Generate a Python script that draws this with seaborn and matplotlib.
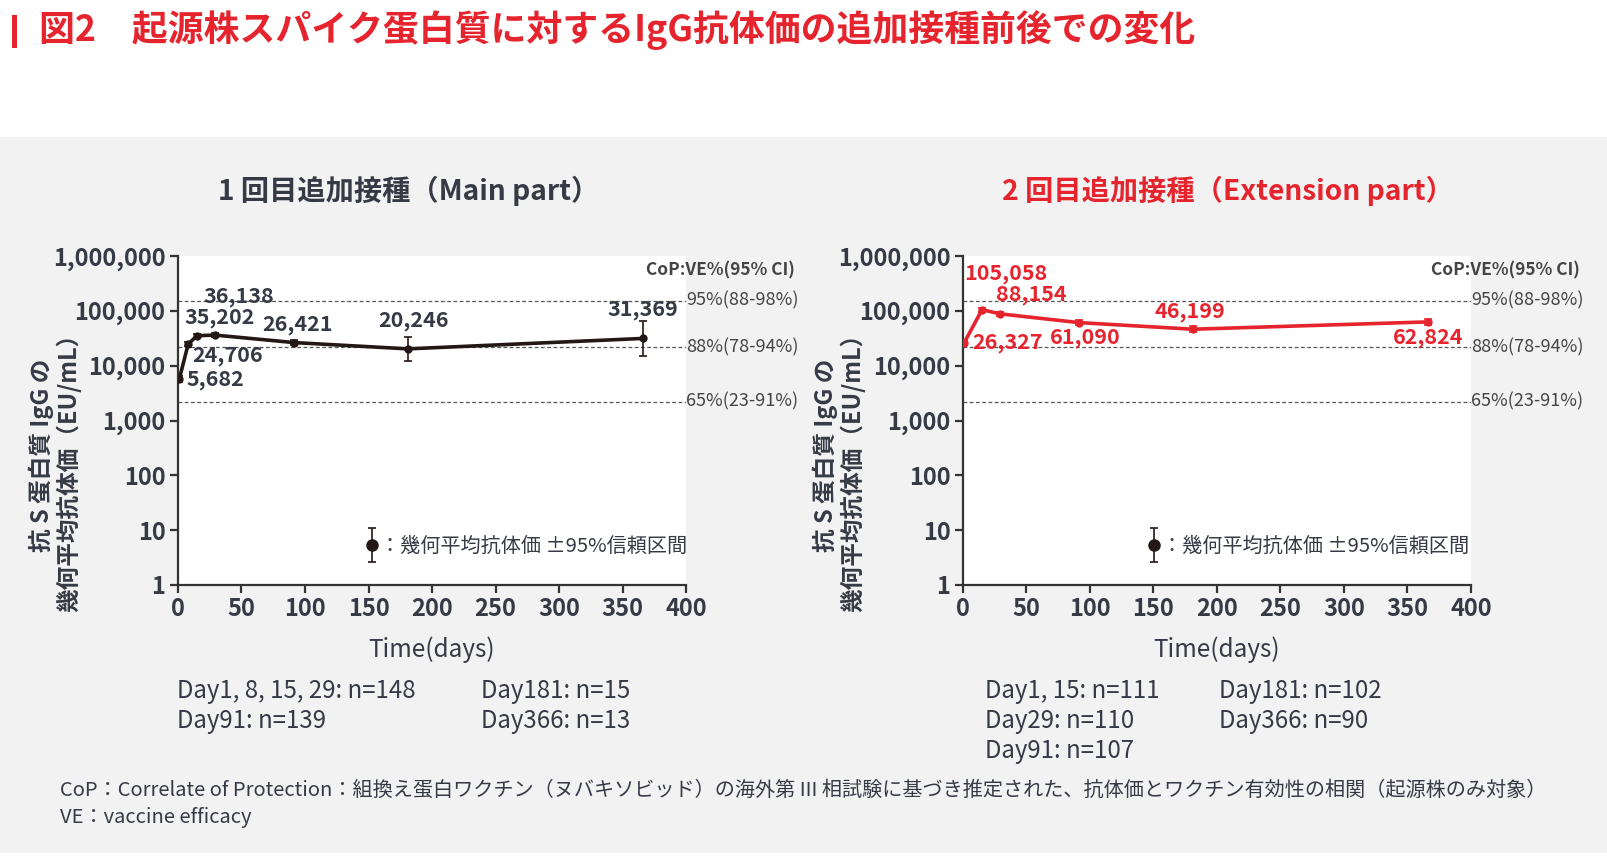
import matplotlib
matplotlib.use("Agg")
import matplotlib.pyplot as plt
import matplotlib.transforms as mtransforms
from matplotlib.patches import Rectangle
from matplotlib.ticker import FixedLocator, FuncFormatter
from matplotlib.legend_handler import HandlerErrorbar
from matplotlib.container import ErrorbarContainer
import numpy as np
import pandas as pd
import seaborn as sns

# --- data -------------------------------------------------------------
main_days = [1, 8, 15, 29, 91, 181, 366]
main_gmt = [5682, 24706, 35202, 36138, 26421, 20246, 31369]
main_lo = [5000, 22500, 32500, 33000, 24000, 12000, 15000]
main_hi = [6450, 27100, 38100, 39500, 29100, 33900, 65800]

ext_days = [1, 15, 29, 91, 181, 366]
ext_gmt = [26327, 105058, 88154, 61090, 46199, 62824]
ext_lo = [24000, 96000, 81000, 54500, 40500, 55500]
ext_hi = [28900, 115000, 96000, 68500, 52700, 71000]

cop_values = [154000, 22000, 2200]
cop_labels = ["95%(88-98%)", "88%(78-94%)", "65%(23-91%)"]

main_n = ["Day1, 8, 15, 29: n=148", "Day91: n=139", "Day181: n=15", "Day366: n=13"]
ext_n = ["Day1, 15: n=111", "Day29: n=110", "Day91: n=107", "Day181: n=102", "Day366: n=90"]

# label offsets (points) for value annotations
main_off = [(5, 0, "left"), (3, -8.5, "left"), (16, 13, "center"), (17, 28, "center"),
            (3, 13, "center"), (4, 20.5, "center"), (0, 21, "center")]
ext_off = [(6, 0, "left"), (17.5, 26, "center"), (22.5, 14, "center"), (5, -10.5, "center"),
           (-2, 13, "center"), (0, -11, "center")]

RED = "#e5242e"
BLACK = "#231815"
DARK = "#363a45"
GRAY_BG = "#f2f2f2"

sns.set_theme(style="ticks")
plt.rcParams["font.family"] = ["Noto Sans CJK JP", "DejaVu Sans"]
plt.rcParams["axes.unicode_minus"] = False

W, H = 1608, 856
fig = plt.figure(figsize=(W / 100, H / 100), dpi=100, facecolor="white")
fig.patches.append(Rectangle((0, 3 / H), 1, (H - 137 - 3) / H, transform=fig.transFigure,
                             facecolor=GRAY_BG, edgecolor="none", zorder=-10))
fig.patches.append(Rectangle((12 / W, 1 - 48 / H), 5 / W, 33 / H, transform=fig.transFigure,
                             facecolor=RED, edgecolor="none"))
fig.text(39 / W, 1 - 30 / H, "図2　起源株スパイク蛋白質に対するIgG抗体価の追加接種前後での変化",
         color=RED, fontsize=25.8, fontweight="bold", va="center", ha="left")


def draw_panel(ax, days, gmt, lo, hi, color, offsets, key_x):
    gmt = np.array(gmt, dtype=float)
    df = pd.DataFrame({"day": days, "gmt": gmt})
    ax.set_facecolor("white")
    sns.lineplot(data=df, x="day", y="gmt", ax=ax, color=color, lw=2.6,
                 marker="o", markersize=6, markeredgewidth=0, zorder=4)
    ax.errorbar(days, gmt, yerr=[gmt - np.array(lo), np.array(hi) - gmt], fmt="none",
                ecolor=color, elinewidth=1.2, capsize=3, capthick=1.2, zorder=3)
    ax.set_yscale("log")
    ax.set_xlim(0, 400)
    ax.set_ylim(1, 1e6)

    for v, lab in zip(cop_values, cop_labels):
        ax.axhline(v, color="#555555", lw=0.9, ls=(0, (3, 2)), zorder=1)
        ax.text(1.0, v, lab, transform=mtransforms.blended_transform_factory(ax.transAxes, ax.transData),
                ha="left", va="center", fontsize=13, color="#444444")
    ax.text(1.215, 0.955, "CoP:VE%(95% CI)", transform=ax.transAxes, ha="right", va="center",
            fontsize=12.5, fontweight="bold", color="#444444")

    for d, g, (dx, dy, ha) in zip(days, gmt, offsets):
        ax.annotate(f"{int(g):,}", (d, g), xytext=(dx, dy), textcoords="offset points",
                    ha=ha, va="center", fontsize=15.5, fontweight="bold",
                    color=RED if color == RED else DARK)

    ax.xaxis.set_major_locator(FixedLocator(range(0, 401, 50)))
    ax.yaxis.set_major_locator(FixedLocator([10 ** k for k in range(7)]))
    ax.yaxis.set_minor_locator(FixedLocator([]))
    ax.yaxis.set_major_formatter(FuncFormatter(lambda v, p: f"{int(round(v)):,}"))
    ax.tick_params(axis="both", length=6, width=1.6, color="#333333", labelsize=17,
                   labelcolor=DARK, pad=3)
    for lab in ax.get_xticklabels() + ax.get_yticklabels():
        lab.set_fontweight("bold")
    for s in ["top", "right"]:
        ax.spines[s].set_visible(False)
    for s in ["left", "bottom"]:
        ax.spines[s].set_color("#333333")
        ax.spines[s].set_linewidth(1.6)
    ax.set_xlabel("Time(days)", fontsize=17.5, color=DARK, labelpad=11)
    ax.set_ylabel("")

    key = ax.errorbar([np.nan], [np.nan], yerr=[1], fmt="o", ms=8, color=BLACK, ecolor=BLACK,
                      elinewidth=1.2, capsize=3, capthick=1.2)
    ax.legend([key], ["：幾何平均抗体価 ±95%信頼区間"], loc="center left",
              bbox_to_anchor=(key_x, 0.118), frameon=False, fontsize=14.5,
              handlelength=0.6, handletextpad=0.1, borderpad=0, labelcolor=DARK,
              handler_map={ErrorbarContainer: HandlerErrorbar(yerr_size=0.85)})


ax_w = 508 / W
ax_h = (585 - 256) / H
ax_b = 1 - 585 / H
ax1 = fig.add_axes([178 / W, ax_b, ax_w, ax_h])
ax2 = fig.add_axes([963 / W, ax_b, ax_w, ax_h])

draw_panel(ax1, main_days, main_gmt, main_lo, main_hi, BLACK, main_off, 0.35)
draw_panel(ax2, ext_days, ext_gmt, ext_lo, ext_hi, RED, ext_off, 0.345)

# panel titles
fig.text(409 / W, 1 - 191 / H, "1 回目追加接種（Main part）", ha="center", va="center",
         fontsize=20.3, fontweight="bold", color=DARK)
fig.text(1228 / W, 1 - 191 / H, "2 回目追加接種（Extension part）", ha="center", va="center",
         fontsize=20.3, fontweight="bold", color=RED)

# y-axis labels
for x1, x2 in [(41, 69), (825, 853)]:
    fig.text(x1 / W, 1 - 455 / H, "抗 S 蛋白質 IgG の", rotation=90, ha="center", va="center",
             fontsize=17, fontweight="bold", color=DARK)
    fig.text(x2 / W, 1 - 467 / H, "幾何平均抗体価（EU/mL）", rotation=90, ha="center", va="center",
             fontsize=17, fontweight="bold", color=DARK)

# sample sizes
n_kw = dict(fontsize=17.3, color=DARK, va="center", ha="left")
fig.text(177 / W, 1 - 691 / H, main_n[0], **n_kw)
fig.text(177 / W, 1 - 721 / H, main_n[1], **n_kw)
fig.text(481 / W, 1 - 691 / H, main_n[2], **n_kw)
fig.text(481 / W, 1 - 721 / H, main_n[3], **n_kw)
fig.text(985 / W, 1 - 691 / H, ext_n[0], **n_kw)
fig.text(985 / W, 1 - 721 / H, ext_n[1], **n_kw)
fig.text(985 / W, 1 - 751 / H, ext_n[2], **n_kw)
fig.text(1219 / W, 1 - 691 / H, ext_n[3], **n_kw)
fig.text(1219 / W, 1 - 721 / H, ext_n[4], **n_kw)

# footnotes
fig.text(60 / W, 1 - 790 / H,
         "CoP：Correlate of Protection：組換え蛋白ワクチン（ヌバキソビッド）の海外第 III 相試験に基づき推定された、抗体価とワクチン有効性の相関（起源株のみ対象）",
         fontsize=14.5, color=DARK, va="center", ha="left")
fig.text(60 / W, 1 - 817 / H, "VE：vaccine efficacy", fontsize=14.5, color=DARK, va="center", ha="left")

fig.savefig("out.png", dpi=100, facecolor=fig.get_facecolor())
